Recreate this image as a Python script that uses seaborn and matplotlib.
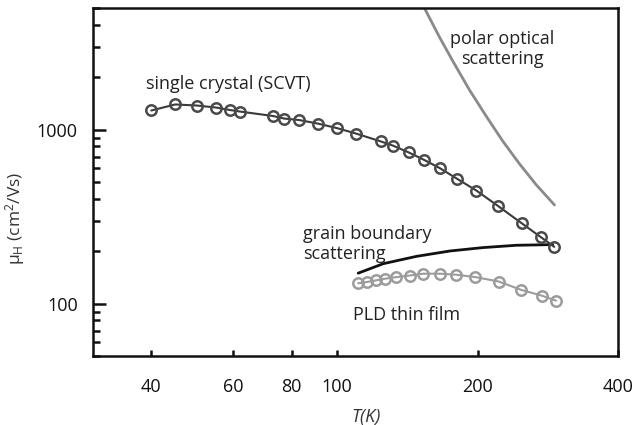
import numpy as np
import pandas as pd
import matplotlib
matplotlib.use("Agg")
import matplotlib.pyplot as plt
from matplotlib.ticker import LogLocator, NullLocator, NullFormatter, FixedLocator, FixedFormatter
import seaborn as sns

# ---- data ----
scvt_T = [40, 45, 50, 55, 59, 62, 73, 77, 83, 91, 100, 110, 124, 132, 142.5,
          153.5, 166, 181, 199, 221, 249, 274, 292]
scvt_mu = [1288, 1395, 1376, 1340, 1296, 1270, 1197, 1158, 1135, 1083, 1020, 948,
           856, 808, 739, 671, 601, 521, 446, 365, 289, 240, 212]

pld_T = [111, 115.7, 121, 126.6, 134, 143, 153, 166, 180, 198, 222, 248, 275, 294.5]
pld_mu = [131, 133, 136, 139, 142, 145, 148.6, 148.6, 146.6, 142, 134, 120, 111, 104]

gb_T = [111, 125.6, 148, 174.4, 205.4, 242, 289.7]
gb_mu = [149.6, 169.6, 186.9, 200.6, 209.9, 216.4, 218.4]

po_T = [152.4, 154.2, 166, 177.3, 192.3, 209, 226.6, 246, 267, 292.4]
po_mu = [5350, 4945, 3380, 2460, 1687, 1189, 858, 636, 483, 369]

x_ticks = [40, 60, 80, 100, 200, 400]
x_ticklabels = ["40", "60", "80", "100", "200", "400"]
y_ticks = [100, 1000]
y_ticklabels = ["100", "1000"]

sns.set_style("white")
plt.rcParams["font.family"] = ["Open Sans", "DejaVu Sans"]
plt.rcParams["mathtext.fontset"] = "custom"
plt.rcParams["mathtext.rm"] = "Open Sans"
plt.rcParams["mathtext.it"] = "Open Sans:italic"

fig = plt.figure(figsize=(6.33, 4.25), dpi=100)
ax = fig.add_axes([93/633, 1-356/425, (618-93)/633, (356-8)/425])
ax.set_facecolor("white")

df_s = pd.DataFrame({"T": scvt_T, "mu": scvt_mu})
df_p = pd.DataFrame({"T": pld_T, "mu": pld_mu})
df_g = pd.DataFrame({"T": gb_T, "mu": gb_mu})
df_o = pd.DataFrame({"T": po_T, "mu": po_mu})

sns.lineplot(data=df_o, x="T", y="mu", ax=ax, color="#8a8a8a", lw=2.0,
             sort=False, estimator=None)
sns.lineplot(data=df_g, x="T", y="mu", ax=ax, color="#111111", lw=2.0,
             sort=False, estimator=None)
sns.lineplot(data=df_p, x="T", y="mu", ax=ax, color="#9c9c9c", lw=1.5,
             sort=False, estimator=None, marker="o", markersize=7.5,
             markerfacecolor="none", markeredgecolor="#9c9c9c", markeredgewidth=1.8)
sns.lineplot(data=df_s, x="T", y="mu", ax=ax, color="#3a3a3a", lw=1.5,
             sort=False, estimator=None, marker="o", markersize=7.5,
             markerfacecolor="none", markeredgecolor="#4a4a4a", markeredgewidth=1.8)

ax.set_xscale("log")
ax.set_yscale("log")
ax.set_xlim(30, 400)
ax.set_ylim(50, 5000)

ax.xaxis.set_major_locator(FixedLocator(x_ticks))
ax.xaxis.set_major_formatter(FixedFormatter(x_ticklabels))
ax.xaxis.set_minor_locator(NullLocator())
ax.yaxis.set_major_locator(FixedLocator(y_ticks))
ax.yaxis.set_major_formatter(FixedFormatter(y_ticklabels))
ax.yaxis.set_minor_locator(LogLocator(base=10, subs=np.arange(2, 10)))
ax.yaxis.set_minor_formatter(NullFormatter())

for s in ax.spines.values():
    s.set_linewidth(1.8)
    s.set_color("#111111")

ax.tick_params(axis="x", which="major", direction="in", length=4.5, width=1.8,
               pad=16, labelsize=13, colors="#111111", bottom=True, top=False)
ax.tick_params(axis="y", which="major", direction="in", length=9, width=1.8,
               pad=11, labelsize=13, colors="#111111", left=True, right=False)
ax.tick_params(axis="y", which="minor", direction="in", length=5, width=1.8,
               left=True, right=False, colors="#111111")

ax.set_xlabel("T(K)", fontsize=13, style="italic", color="#333333")
ax.xaxis.set_label_coords(0.52, -0.149)
ax.set_ylabel("μ$_\\mathrm{H}$ (cm$^2$/Vs)", fontsize=12.5, color="#333333")
ax.yaxis.set_label_coords(-0.126, 0.397)

tc = "#222222"
ax.text((146-93)/525, (356-84)/348, "single crystal (SCVT)", transform=ax.transAxes,
        ha="left", va="center", fontsize=13, color=tc)
ax.text((502-93)/525, (356-49)/348, "polar optical\nscattering", transform=ax.transAxes,
        ha="center", va="center", fontsize=13, color=tc, linespacing=1.1)
ax.text((303-93)/525, (356-244)/348, "grain boundary\nscattering", transform=ax.transAxes,
        ha="left", va="center", fontsize=13, color=tc, linespacing=1.1)
ax.text((353-93)/525, (356-315)/348, "PLD thin film", transform=ax.transAxes,
        ha="left", va="center", fontsize=13, color=tc)

fig.savefig("out.png", dpi=100, facecolor="white")
